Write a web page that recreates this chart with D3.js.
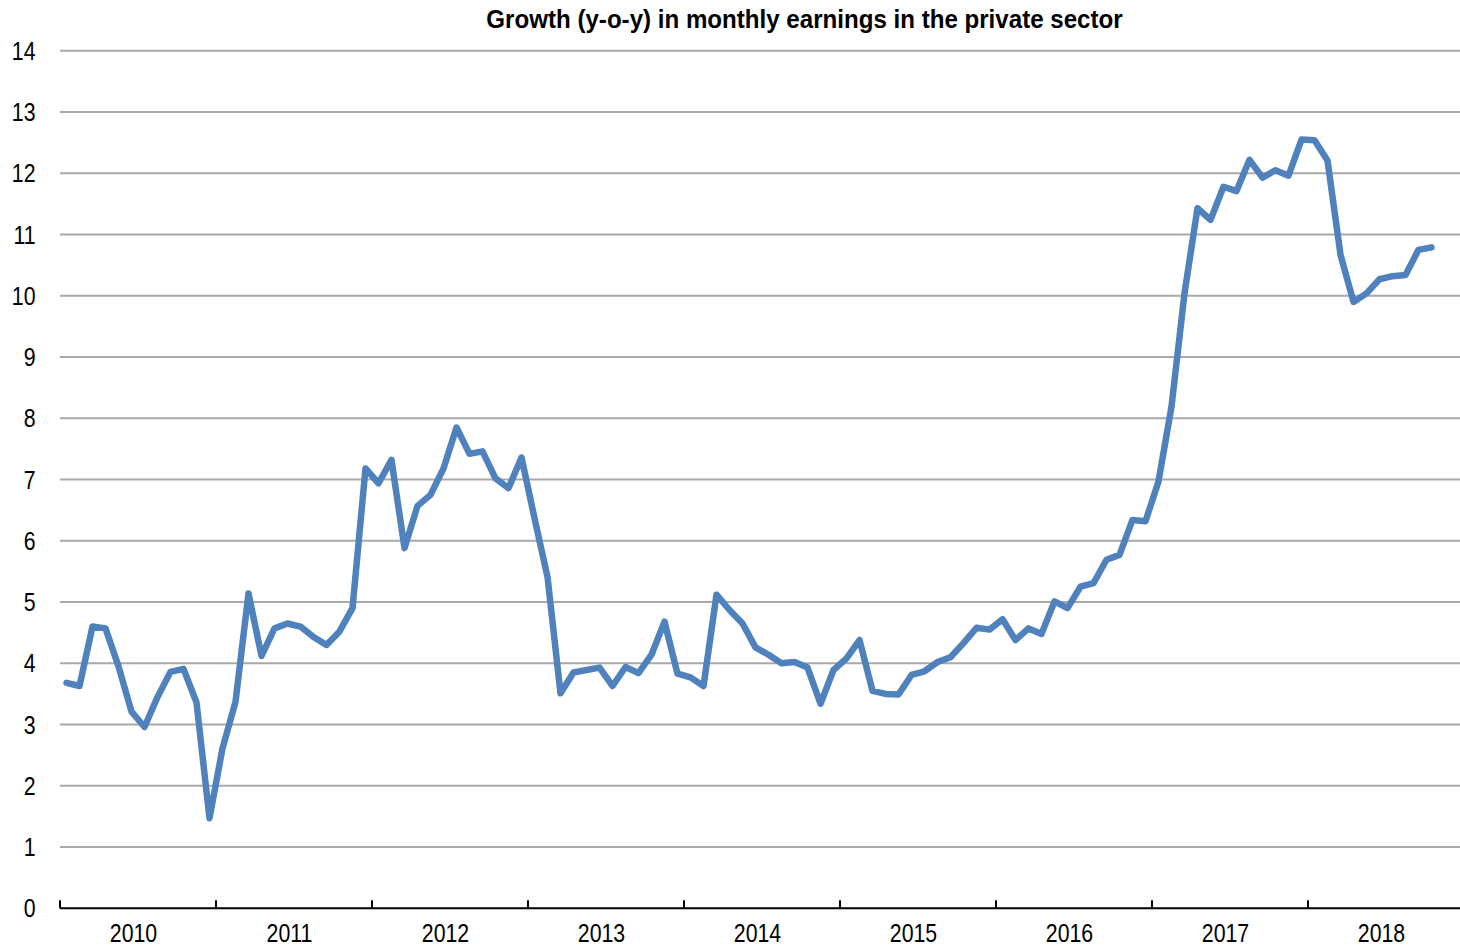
<!DOCTYPE html>
<html>
<head>
<meta charset="utf-8">
<script src="https://cdn.jsdelivr.net/npm/d3@7"></script>
<style>
  html, body { margin: 0; padding: 0; background: #fff; }
  svg { display: block; }
  text { font-family: "Liberation Sans", Arial, sans-serif; fill: #000; }
</style>
</head>
<body>
<svg id="chart" width="1460" height="948"></svg>
<script>
// Monthly series, Jan 2010 – Oct 2018 (y-o-y % growth)
const startYear = 2010;
const years = [2010, 2011, 2012, 2013, 2014, 2015, 2016, 2017, 2018];
const yTicks = [0, 1, 2, 3, 4, 5, 6, 7, 8, 9, 10, 11, 12, 13, 14];
const title = "Growth (y-o-y) in monthly earnings in the private sector";

const growth2010 = [3.68, 3.63, 4.60, 4.57, 3.95, 3.21, 2.96, 3.45, 3.86, 3.91, 3.36, 1.47];
const growth2011 = [2.61, 3.37, 5.14, 4.12, 4.57, 4.65, 4.60, 4.43, 4.30, 4.52, 4.90, 7.18];
const growth2012 = [6.94, 7.32, 5.88, 6.57, 6.75, 7.18, 7.85, 7.42, 7.46, 7.02, 6.86, 7.36];
const growth2013 = [6.37, 5.41, 3.51, 3.85, 3.89, 3.93, 3.63, 3.94, 3.84, 4.14, 4.68, 3.83];
const growth2014 = [3.77, 3.63, 5.12, 4.87, 4.65, 4.26, 4.14, 4.00, 4.02, 3.93, 3.34, 3.89];
const growth2015 = [4.08, 4.38, 3.55, 3.50, 3.49, 3.81, 3.87, 4.02, 4.10, 4.33, 4.58, 4.55];
const growth2016 = [4.72, 4.38, 4.57, 4.48, 5.01, 4.90, 5.25, 5.31, 5.69, 5.77, 6.34, 6.32];
const growth2017 = [6.97, 8.19, 10.04, 11.43, 11.24, 11.78, 11.71, 12.22, 11.93, 12.05, 11.96, 12.55];
const growth2018 = [12.54, 12.21, 10.67, 9.90, 10.04, 10.27, 10.32, 10.34, 10.75, 10.79];

const values = [].concat(growth2010, growth2011, growth2012, growth2013, growth2014,
                         growth2015, growth2016, growth2017, growth2018);
const series = values.map((v, i) => ({ month: i, value: v }));

const svg = d3.select("#chart");
const plotLeft = 60, plotRight = 1464, plotTop = 50.8, plotBottom = 908.3;
const narrow = 0.82;   // condensed glyph width for axis labels
const titleNarrow = 0.91;

// month index scale: each year spans 12 slots, points sit mid-slot
const x = d3.scaleLinear().domain([0, years.length * 12]).range([plotLeft, plotRight]);
const y = d3.scaleLinear().domain([0, 14]).range([plotBottom, plotTop]);

// title
svg.append("text")
  .attr("transform", `translate(804.5,28) scale(${titleNarrow},1)`)
  .attr("text-anchor", "middle")
  .attr("font-size", 26.5)
  .attr("font-weight", "bold")
  .text(title);

// horizontal gridlines
svg.append("g")
  .selectAll("line")
  .data(yTicks.filter(d => d > 0))
  .join("line")
  .attr("x1", plotLeft).attr("x2", 1460)
  .attr("y1", d => y(d)).attr("y2", d => y(d))
  .attr("stroke", "#a9a9a9")
  .attr("stroke-width", 2);

// y-axis labels
svg.append("g")
  .selectAll("text")
  .data(yTicks)
  .join("text")
  .attr("transform", d => `translate(35.5,${y(d) + 9}) scale(${narrow},1)`)
  .attr("text-anchor", "end")
  .attr("font-size", 26)
  .text(d => d);

// x axis baseline with year boundary ticks
const xAxis = svg.append("g");
xAxis.append("line")
  .attr("x1", plotLeft).attr("x2", 1460)
  .attr("y1", plotBottom).attr("y2", plotBottom)
  .attr("stroke", "#000").attr("stroke-width", 2);
xAxis.selectAll("line.tick")
  .data(years.map((yr, k) => k * 12))
  .join("line")
  .attr("class", "tick")
  .attr("x1", d => x(d)).attr("x2", d => x(d))
  .attr("y1", plotBottom - 8).attr("y2", plotBottom)
  .attr("stroke", "#000").attr("stroke-width", 2);
xAxis.selectAll("text")
  .data(years)
  .join("text")
  .attr("transform", (yr, k) => `translate(${x(k * 12 + 6) - 4.5},941.5) scale(${narrow},1)`)
  .attr("text-anchor", "middle")
  .attr("font-size", 26)
  .text(d => d);

// earnings growth line
const line = d3.line()
  .x(d => x(d.month + 0.5))
  .y(d => y(d.value));

svg.append("path")
  .datum(series)
  .attr("d", line)
  .attr("fill", "none")
  .attr("stroke", "#4f81bd")
  .attr("stroke-width", 6.5)
  .attr("stroke-linejoin", "round")
  .attr("stroke-linecap", "round");
</script>
</body>
</html>
